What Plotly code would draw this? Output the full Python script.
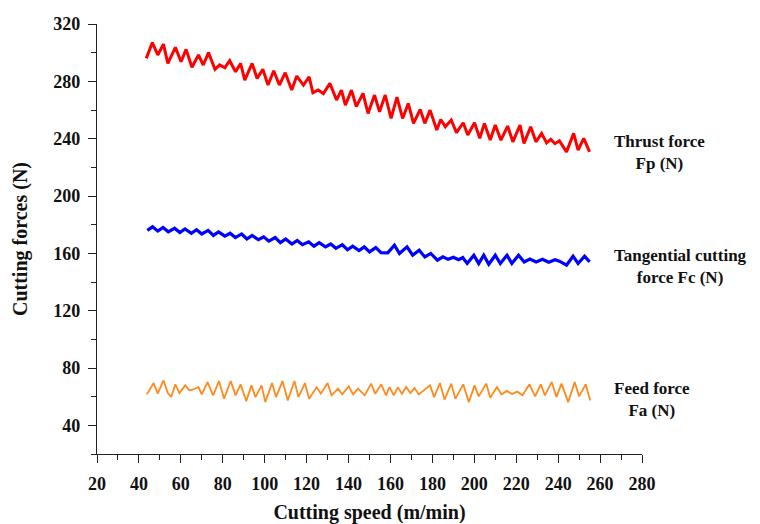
import plotly.graph_objects as go

# Cutting speed (m/min) and forces (N)
red_x = [43.5, 46.4, 49, 51.7, 53.8, 57.4, 60.1, 62.5, 65.3, 68.4,
         70.7, 73.2, 76.3, 78.5, 81, 83.3, 86.1, 88.5, 90.5, 94,
         96.4, 99.1, 101.6, 104.3, 107, 109.8, 112.9, 115.3, 118.5, 121.2,
         123, 125.5, 128, 131.1, 134.3, 136.6, 138.5, 141.4, 143.7, 146.9,
         149.3, 152.4, 154.8, 157.5, 160.3, 163.1, 165.8, 168.5, 171, 174.2,
         176.4, 178.9, 182.1, 184, 186.2, 189, 191.5, 194.7, 196.9, 200.1,
         202.6, 204.8, 207.6, 210, 212.7, 215.9, 218.4, 221.8, 223.7, 226.9,
         229.4, 232.1, 234.5, 236.5, 238.5, 240.6, 244, 247.4, 249.5, 252.2,
         255]
red_y = [296, 307, 298.4, 306, 292.5, 303.7, 293.7, 302.3, 289.8, 298.4,
         291.4, 300, 288.4, 291.5, 289.5, 294.4, 286.7, 292.5, 280.9, 292.5,
         282, 288.4, 277.4, 287.4, 277.4, 286, 273.9, 283.7, 277.4, 283.2,
         272, 274, 271.5, 278.6, 267, 273.9, 263.4, 273.9, 262.3, 271.6,
         257.6, 270.4, 258.8, 270.4, 254.1, 269, 254.1, 264.6, 250.7, 260.4,
         250.7, 259.9, 246, 253.4, 248.3, 253, 244.2, 251.1, 242.5, 251.1,
         240.2, 250.7, 239, 249.5, 239, 248.8, 237.8, 249.5, 236.7, 248.3,
         237.8, 243.7, 237, 239.5, 236.5, 238.5, 230.8, 243.7, 232, 240.2,
         230.8]

blue_x = [44, 46.5, 49, 51.5, 54, 57, 59.5, 62, 65, 67.5,
          70, 73, 75.5, 78, 81, 83.5, 86, 89, 91.5, 94,
          97, 99.5, 102, 105, 107.5, 110, 113, 115.5, 118, 121,
          123.5, 126, 129, 131.5, 134, 137, 139.5, 142, 145, 147.5,
          150, 153, 155.5, 158.7, 161.9, 164.3, 167.9, 170.6, 173.7, 176.4,
          179.2, 182.4, 185, 187.5, 190, 192.5, 194.5, 196.6, 199.8, 202.1,
          204.5, 206.9, 210, 212.4, 215.6, 217.9, 221.1, 223.8, 226.5, 229.5,
          232.5, 235.5, 238.5, 240.6, 244, 247.1, 249.5, 252.6, 255]
blue_y = [176, 178.5, 175.5, 178, 175, 177.5, 174.5, 177, 174, 176.5,
          173.5, 176, 172.5, 175, 172, 174, 171, 173.5, 170, 172.5,
          169.5, 171.5, 168.5, 171, 167.5, 170, 166.5, 169, 166, 168,
          165, 167.5, 164.5, 166.5, 163.5, 166, 162.5, 165, 162, 164.5,
          161, 164, 160.5, 160.3, 165.7, 159.9, 164.5, 158.7, 162.2, 157.5,
          159.9, 155.2, 157.5, 155.8, 157.2, 155.5, 157, 152.9, 158.7, 152.9,
          158.7, 152.4, 158.7, 152.9, 158.7, 152.9, 158.7, 154, 156, 154,
          155.8, 153.8, 155.5, 154.5, 151.7, 158, 152.9, 158, 154]

orange_x = [43.8, 47, 49, 51.7, 53.8, 55.4, 57.4, 59.3, 62.1, 64,
            66, 68.4, 70, 72.7, 75.4, 78.2, 80.6, 83.8, 86.1, 88.5,
            91.2, 93.7, 95.6, 98.5, 100.3, 103.5, 105.4, 108.5, 111, 114.2,
            116.1, 119.2, 121.2, 124.8, 126.8, 130, 131.9, 135, 137, 140.1,
            142.2, 144.5, 147.7, 150.8, 152.7, 155.6, 157.9, 159.5, 161.6, 163.5,
            165.5, 167.5, 169.5, 171.5, 173.5, 176.3, 178.9, 180.8, 183.6, 185.8,
            189, 191, 194.7, 197.4, 200.1, 202.1, 205.7, 207.6, 210.8, 213,
            215.5, 218, 220.5, 223, 226.3, 229, 231.7, 233.7, 236.9, 239.2,
            241.6, 244.8, 247.9, 250, 253.1, 255.3]
orange_y = [61.6, 69.5, 62.1, 71.4, 62.5, 59.8, 68.6, 62.5, 67.9, 64.4,
            65, 66.7, 61.6, 70.2, 60.9, 70.9, 58.6, 70.9, 60.9, 68.6,
            56.9, 67.9, 59.7, 67.9, 56.2, 69.5, 59.7, 70.9, 57.4, 70.9,
            59.7, 69.5, 58.6, 66.7, 62.1, 69.5, 60.9, 65.6, 61.6, 67.2,
            61.6, 65.6, 60.9, 69.1, 62.1, 68.6, 60.9, 66.7, 60.9, 66.5,
            62, 66.8, 62.5, 66, 61.5, 64.5, 67.9, 59.7, 69.5, 57.9,
            69.1, 58.6, 68.6, 56.2, 67.9, 60.2, 69.1, 59.3, 66.7, 61.5,
            64, 61.8, 63.5, 61, 68.6, 60.2, 68.6, 60.9, 70.2, 59.7,
            69.1, 56.2, 70.2, 60.2, 68.6, 57.4]

assert len(red_x) == len(red_y), (len(red_x), len(red_y))
assert len(blue_x) == len(blue_y), (len(blue_x), len(blue_y))
assert len(orange_x) == len(orange_y), (len(orange_x), len(orange_y))

series_labels = ["Thrust force<br>Fp (N)", "Tangential cutting<br>force Fc (N)", "Feed force<br>Fa (N)"]
label_y = [0.702, 0.437, 0.127]

FONT = "Liberation Serif, Times New Roman, serif"

fig = go.Figure()
fig.add_trace(go.Scatter(x=red_x, y=red_y, mode="lines",
                         line=dict(color="#ff0000", width=3.0), showlegend=False))
fig.add_trace(go.Scatter(x=blue_x, y=blue_y, mode="lines",
                         line=dict(color="#0000ff", width=3.2), showlegend=False))
fig.add_trace(go.Scatter(x=orange_x, y=orange_y, mode="lines",
                         line=dict(color="#ff8a1e", width=1.8), showlegend=False))

for txt, yy in zip(series_labels, label_y):
    fig.add_annotation(text=txt, xref="paper", yref="paper", x=0.945, y=yy,
                       xanchor="left", yanchor="middle", align="center", showarrow=False,
                       font=dict(family=FONT, size=17, color="#111111", weight="bold"))

axis_common = dict(showline=True, linecolor="#222222", linewidth=1.3,
                   ticks="outside", ticklen=8, tickwidth=1.3, tickcolor="#222222",
                   showgrid=False, zeroline=False, mirror=False,
                   tickfont=dict(family=FONT, size=18, color="#111111", weight="bold"))

fig.update_xaxes(range=[20, 280], tick0=20, dtick=20,
                 minor=dict(ticks="outside", ticklen=5, tickwidth=1.3, tickcolor="#222222", dtick=10, tick0=20),
                 ticklabelstandoff=5,
                 title=dict(text="Cutting speed (m/min)", standoff=13,
                            font=dict(family=FONT, size=20, color="#111111", weight="bold")),
                 **axis_common)
fig.update_yaxes(range=[20, 320], tick0=40, dtick=40,
                 minor=dict(ticks="outside", ticklen=5, tickwidth=1.3, tickcolor="#222222", dtick=20, tick0=20),
                 ticklabelstandoff=4,
                 title=dict(text="Cutting forces (N)", standoff=20,
                            font=dict(family=FONT, size=20, color="#111111", weight="bold")),
                 **axis_common)

fig.update_layout(width=760, height=524, paper_bgcolor="white", plot_bgcolor="white",
                  margin=dict(l=97, r=118, t=24, b=70, autoexpand=False))
fig.update_xaxes(automargin=False)
fig.update_yaxes(automargin=False)

fig.write_html("out.html")
